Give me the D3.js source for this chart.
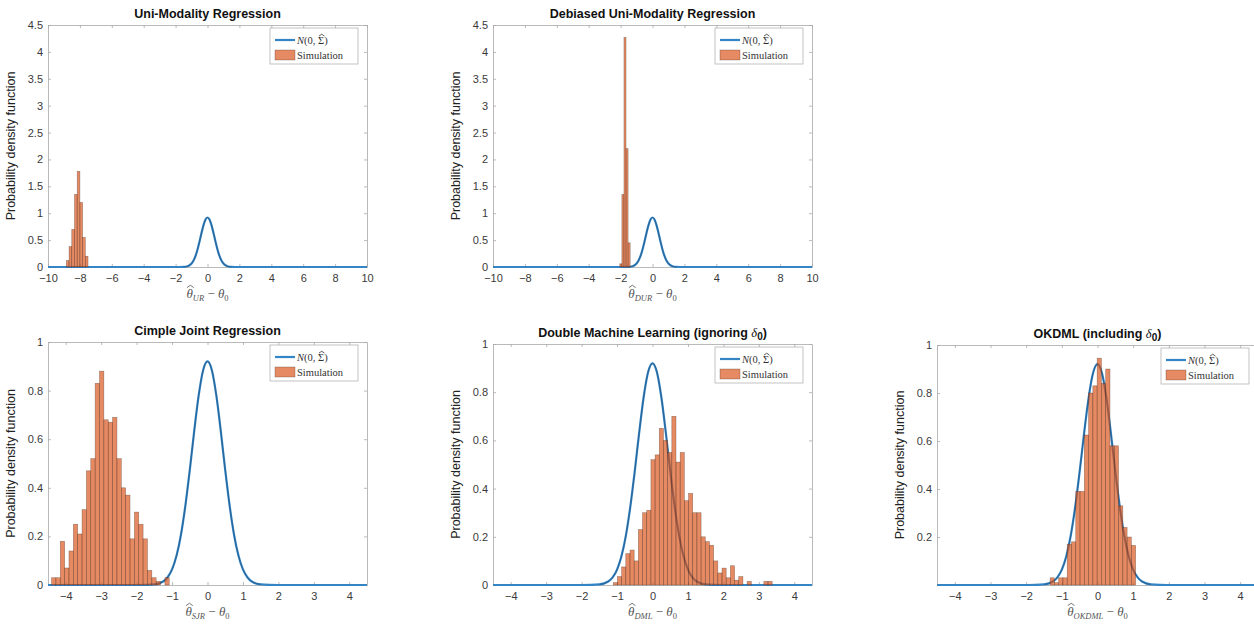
<!DOCTYPE html>
<html>
<head>
<meta charset="utf-8">
<script src="https://cdn.jsdelivr.net/npm/d3@7"></script>
<style>
  body { margin: 0; background: #fff; }
  svg { display: block; }
</style>
</head>
<body>
<svg id="chart"></svg>
<script>
const w = 1254;
const h = 626;

// reference normal density N(0, Sigma-hat) (same in every panel)
const normX = [-10, -2, -1.75, -1.5, -1.25, -1.125, -1, -0.875, -0.75, -0.625, -0.5, -0.375, -0.25, -0.125, 0,
  0.125, 0.25, 0.375, 0.5, 0.625, 0.75, 0.875, 1, 1.125, 1.25, 1.5, 1.75, 2, 10];
const normY = [0, 0, 0.0003, 0.0023, 0.0144, 0.032, 0.064, 0.12, 0.206, 0.326, 0.473, 0.633, 0.779, 0.883, 0.92,
  0.883, 0.779, 0.633, 0.473, 0.326, 0.206, 0.12, 0.064, 0.032, 0.0144, 0.0023, 0.0003, 0, 0];

// simulation histograms: first bin edge, bin width, density of each bin
const urStart = -8.85;
const urWidth = 0.17;
const urDensity = [0.12, 0.38, 0.7, 1.35, 1.78, 1.2, 0.55, 0.2];

const durStart = -2.05;
const durWidth = 0.13;
const durDensity = [0.06, 1.35, 4.27, 2.2, 0.45];

const sjrStart = -4.40;
const sjrWidth = 0.123;
const sjrDensity = [0.03, 0.03, 0.18, 0.07, 0.14, 0.25, 0.21, 0.31, 0.47, 0.52, 0.83, 0.88, 0.68, 0.67,
  0.69, 0.52, 0.40, 0.37, 0.19, 0.30, 0.25, 0.19, 0.06, 0.03, 0.015, 0, 0.03];

const dmlStart = -1.107;
const dmlWidth = 0.118;
const dmlDensity = [0.01, 0.035, 0.075, 0.13, 0.145, 0.10, 0.23, 0.30, 0.31, 0.52, 0.54, 0.65, 0.60, 0.55,
  0.70, 0.51, 0.55, 0.35, 0.38, 0.30, 0.30, 0.20, 0.18, 0.165, 0.10, 0.05, 0.07, 0.03, 0.08, 0.02, 0.035,
  0, 0.015, 0, 0, 0, 0.015, 0.015];

const okStart = -1.33;
const okWidth = 0.12;
const okDensity = [0.03, 0.01, 0.03, 0.03, 0.17, 0.18, 0.39, 0.39, 0.625, 0.80, 0.83, 0.945, 0.84, 0.90,
  0.58, 0.58, 0.33, 0.24, 0.20, 0.165];

const wideTicksX = [-10, -8, -6, -4, -2, 0, 2, 4, 6, 8, 10];
const wideTicksY = [0, 0.5, 1, 1.5, 2, 2.5, 3, 3.5, 4, 4.5];
const narrowTicksX = [-4, -3, -2, -1, 0, 1, 2, 3, 4];
const narrowTicksY = [0, 0.2, 0.4, 0.6, 0.8, 1];
const okTicksY = [0.2, 0.4, 0.6, 0.8, 1];

const titles = [
  'Uni-Modality Regression',
  'Debiased Uni-Modality Regression',
  'Cimple Joint Regression',
  'Double Machine Learning (ignoring ',
  'OKDML (including '
];
const estimators = ['UR', 'DUR', 'SJR', 'DML', 'OKDML'];

const bins = (start, width, dens) =>
  dens.map((d, i) => ({ x0: start + i * width, x1: start + (i + 1) * width, d }));

const panels = [
  { left: 48, right: 367, top: 25, bottom: 267, xd: [-10, 10], yd: [0, 4.5], xt: wideTicksX, yt: wideTicksY,
    bars: bins(urStart, urWidth, urDensity), title: titles[0], est: estimators[0], delta: false },
  { left: 493, right: 812, top: 25, bottom: 267, xd: [-10, 10], yd: [0, 4.5], xt: wideTicksX, yt: wideTicksY,
    bars: bins(durStart, durWidth, durDensity), title: titles[1], est: estimators[1], delta: false },
  { left: 48, right: 367, top: 342, bottom: 585, xd: [-4.5, 4.5], yd: [0, 1], xt: narrowTicksX, yt: narrowTicksY,
    bars: bins(sjrStart, sjrWidth, sjrDensity), title: titles[2], est: estimators[2], delta: false },
  { left: 493, right: 812, top: 344, bottom: 585, xd: [-4.5, 4.5], yd: [0, 1], xt: narrowTicksX, yt: narrowTicksY,
    bars: bins(dmlStart, dmlWidth, dmlDensity), title: titles[3], est: estimators[3], delta: true },
  { left: 937, right: 1258, top: 345, bottom: 585, xd: [-4.5, 4.5], yd: [0, 1], xt: narrowTicksX, yt: okTicksY,
    bars: bins(okStart, okWidth, okDensity), title: titles[4], est: estimators[4], delta: true }
];

const sans = '"Liberation Sans", Arial, Helvetica, sans-serif';
const serif = '"Liberation Serif", "DejaVu Serif", "Times New Roman", serif';
const blue = '#3485c6';
const barFill = '#d95319';

const svg = d3.select('#chart').attr('width', w).attr('height', h);

// little hat drawn above a glyph (widehat in the LaTeX labels)
const addHat = (g, tspan, baseline, size, color) => {
  const ext = tspan.node().getExtentOfChar(0);
  const cx = ext.x + ext.width / 2 + size * 0.06;
  const half = size * 0.26;
  g.append('path')
    .attr('d', `M${cx - half},${baseline - size * 0.8} L${cx},${baseline - size * 0.98} L${cx + half},${baseline - size * 0.8}`)
    .attr('fill', 'none').attr('stroke', color).attr('stroke-width', 0.8);
};

const drawPanel = (p, idx) => {
  const x = d3.scaleLinear().domain(p.xd).range([p.left, p.right]);
  const y = d3.scaleLinear().domain(p.yd).range([p.bottom, p.top]);
  const g = svg.append('g');

  g.append('clipPath').attr('id', 'clip' + idx)
    .append('rect')
    .attr('x', p.left).attr('y', p.top - 1)
    .attr('width', p.right - p.left).attr('height', p.bottom - p.top + 2);

  // axes, MATLAB style box with inward ticks
  const styleAxis = a => {
    a.selectAll('path.domain').attr('stroke', '#a8a8a8').attr('stroke-width', 0.8);
    a.selectAll('.tick line').attr('stroke', '#a8a8a8').attr('stroke-width', 0.8);
    a.selectAll('.tick text').attr('fill', '#3a3a3a')
      .style('font-family', sans).style('font-size', '11px');
  };

  const bottomAxis = g.append('g').attr('transform', `translate(0,${p.bottom})`)
    .call(d3.axisBottom(x).tickValues(p.xt).tickSizeInner(-3).tickSizeOuter(0).tickPadding(7)
      .tickFormat(d3.format('')));
  styleAxis(bottomAxis);
  const leftAxis = g.append('g').attr('transform', `translate(${p.left},0)`)
    .call(d3.axisLeft(y).tickValues(p.yt).tickSizeInner(-3).tickSizeOuter(0).tickPadding(5)
      .tickFormat(d3.format('')));
  styleAxis(leftAxis);
  const topAxis = g.append('g').attr('transform', `translate(0,${p.top})`)
    .call(d3.axisTop(x).tickValues(p.xt).tickSizeInner(-3).tickSizeOuter(0).tickFormat(''));
  styleAxis(topAxis);
  const rightAxis = g.append('g').attr('transform', `translate(${p.right},0)`)
    .call(d3.axisRight(y).tickValues(p.yt).tickSizeInner(-3).tickSizeOuter(0).tickFormat(''));
  styleAxis(rightAxis);

  const plot = g.append('g').attr('clip-path', `url(#clip${idx})`);

  const pts = normX.map((v, i) => [v, normY[i]]);
  const line = d3.line().x(d => x(d[0])).y(d => y(d[1])).curve(d3.curveMonotoneX);
  plot.append('path').datum(pts)
    .attr('d', line).attr('fill', 'none')
    .attr('stroke', blue).attr('stroke-width', 2.2);
  plot.append('path').datum(pts.filter(d => d[0] >= -1.6 && d[0] <= 1.6))
    .attr('d', line).attr('fill', 'none')
    .attr('stroke', '#17324d').attr('stroke-width', 0.6).attr('opacity', 0.7);

  plot.selectAll('rect.bar').data(p.bars.filter(b => b.d > 0)).enter()
    .append('rect').attr('class', 'bar')
    .attr('x', d => x(d.x0))
    .attr('y', d => y(d.d))
    .attr('width', d => x(d.x1) - x(d.x0))
    .attr('height', d => y(0) - y(d.d))
    .attr('fill', barFill).attr('fill-opacity', 0.68)
    .attr('stroke', '#3b2418').attr('stroke-opacity', 0.45).attr('stroke-width', 0.6);

  // title
  const cx = (p.left + p.right) / 2;
  const title = g.append('text')
    .attr('x', cx).attr('y', p.top - 7)
    .attr('text-anchor', 'middle')
    .attr('fill', '#111')
    .style('font-family', sans).style('font-size', '12.5px').style('font-weight', 'bold');
  title.append('tspan').text(p.title);
  if (p.delta) {
    title.append('tspan').style('font-family', serif).style('font-style', 'italic')
      .style('font-weight', 'normal').text('δ');
    title.append('tspan').attr('dy', 3).style('font-size', '10px').text('0');
    title.append('tspan').attr('dy', -3).text(')');
  }

  // y label
  g.append('text')
    .attr('transform', `translate(${p.left - 33},${(p.top + p.bottom) / 2}) rotate(-90)`)
    .attr('text-anchor', 'middle')
    .attr('fill', '#222')
    .style('font-family', sans).style('font-size', '12.5px')
    .text('Probability density function');

  // x label
  const xBase = p.bottom + 31;
  const xl = g.append('text')
    .attr('x', cx).attr('y', xBase)
    .attr('text-anchor', 'middle')
    .attr('fill', '#555')
    .style('font-family', serif).style('font-size', '13px');
  const theta = xl.append('tspan').style('font-style', 'italic').text('θ');
  xl.append('tspan').attr('dy', 3).style('font-size', '8.5px').style('font-style', 'italic').text(p.est);
  xl.append('tspan').attr('dy', -3).text(' − ');
  xl.append('tspan').style('font-style', 'italic').text('θ');
  xl.append('tspan').attr('dy', 3).style('font-size', '8.5px').text('0');
  addHat(g, theta, xBase, 13, '#555');

  // legend
  const lw = 88;
  const lh = 36;
  const lx = p.right - 9 - lw;
  const ly = p.top + 3;
  const leg = g.append('g');
  leg.append('rect').attr('x', lx).attr('y', ly).attr('width', lw).attr('height', lh)
    .attr('fill', '#fff').attr('stroke', '#b5b5b5').attr('stroke-width', 0.8);
  leg.append('line').attr('x1', lx + 5).attr('x2', lx + 25).attr('y1', ly + 12).attr('y2', ly + 12)
    .attr('stroke', blue).attr('stroke-width', 2.2);
  const lBase = ly + 16;
  const lt = leg.append('text').attr('x', lx + 27).attr('y', lBase)
    .attr('fill', '#333').style('font-family', serif).style('font-size', '10.5px');
  lt.append('tspan').style('font-style', 'italic').text('N');
  lt.append('tspan').text('(0, ');
  const sigma = lt.append('tspan').text('Σ');
  lt.append('tspan').text(')');
  addHat(leg, sigma, lBase + 0.5, 10.5, '#333');
  leg.append('rect').attr('x', lx + 5).attr('y', ly + 22).attr('width', 20).attr('height', 10)
    .attr('fill', barFill).attr('fill-opacity', 0.68)
    .attr('stroke', '#3b2418').attr('stroke-opacity', 0.45).attr('stroke-width', 0.6);
  leg.append('text').attr('x', lx + 27).attr('y', ly + 31)
    .attr('fill', '#333').style('font-family', serif).style('font-size', '10.5px')
    .text('Simulation');
};

panels.forEach(drawPanel);
</script>
</body>
</html>
